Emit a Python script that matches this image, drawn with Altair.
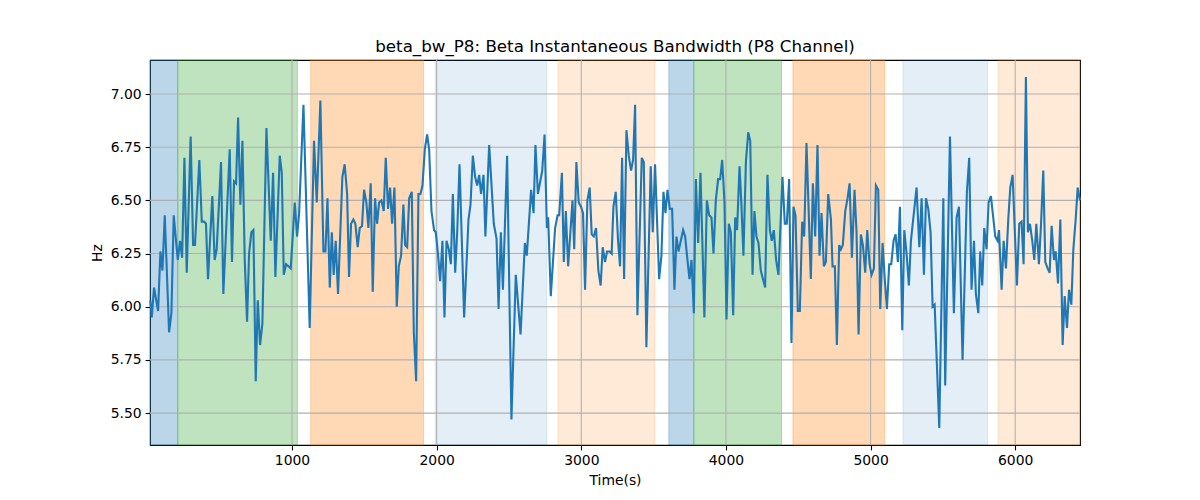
import altair as alt
import pandas as pd

# ---- series (Time in s, beta instantaneous bandwidth in Hz) ----
time_s = [
    20, 30, 46, 74, 90, 104, 120, 150, 166, 182, 210, 226, 240, 256, 272, 299, 316, 329, 359, 376,
    392, 405, 419, 449, 465, 479, 509, 525, 569, 585, 599,
    613, 627, 643, 657, 673, 689, 703, 719, 733, 749, 763, 779, 795, 823, 853, 869, 885, 915, 929, 943,
    959, 975, 991, 1019, 1035, 1049, 1079, 1122, 1152, 1171,
    1196, 1217, 1231, 1245, 1261, 1275, 1288, 1302, 1318, 1348, 1364, 1381, 1394, 1408, 1424, 1438,
    1454, 1468, 1484, 1498, 1514, 1528, 1544, 1558, 1574, 1588, 1602, 1618, 1634, 1648, 1664, 1678,
    1692, 1708, 1724, 1738, 1754, 1770,
    1782, 1796, 1810, 1828, 1842, 1858, 1874, 1888, 1902, 1918, 1934, 1948, 1964, 1982, 1994, 2010,
    2024, 2040, 2054, 2068, 2084, 2098, 2112, 2128, 2142, 2158, 2190, 2220, 2234, 2250, 2266, 2280,
    2294, 2307, 2324, 2337, 2363,
    2395, 2414, 2428, 2444, 2458, 2487, 2517, 2547, 2580, 2610, 2623, 2653, 2670, 2683, 2700, 2730,
    2746, 2762, 2771, 2789, 2819, 2836, 2847, 2866, 2879, 2893, 2909, 2939, 2951,
    2966, 2982, 2998, 3012, 3026, 3042, 3058, 3072, 3086, 3102, 3118, 3134, 3148, 3164, 3178, 3197,
    3210, 3222, 3238, 3254, 3268, 3282, 3296, 3312, 3328, 3344, 3358, 3372, 3388, 3418, 3432, 3450,
    3480, 3494, 3510, 3538,
    3554, 3568, 3582, 3596, 3612, 3628, 3644, 3658, 3672, 3688, 3704, 3718, 3734, 3748, 3762, 3778,
    3792, 3808, 3824, 3851, 3868, 3884, 3900, 3914, 3930, 3946, 3960, 3974, 3990, 4004, 4020, 4034,
    4050, 4064, 4077, 4094, 4107, 4121,
    4138, 4154, 4168, 4184, 4197, 4211, 4225, 4241, 4271, 4287, 4304, 4317, 4331, 4347, 4363, 4391,
    4407, 4421, 4437, 4453, 4467, 4481, 4497, 4511, 4527, 4541, 4557, 4587, 4601, 4617, 4633, 4647,
    4661, 4677, 4691, 4707,
    4726, 4737, 4753, 4767, 4783, 4795, 4808, 4825, 4841, 4855, 4871, 4889, 4903, 4917, 4933, 4947,
    4963, 4977, 4993, 5007, 5023, 5037, 5053, 5067, 5083, 5097, 5113, 5129, 5143, 5159, 5173, 5189,
    5203, 5219, 5233, 5249, 5265, 5279,
    5318, 5337, 5353, 5369, 5383, 5399, 5415, 5429, 5443, 5475, 5503, 5516, 5549, 5576, 5595, 5611,
    5636, 5666, 5682, 5698, 5715, 5728, 5745, 5758, 5772, 5786, 5802, 5816, 5832, 5848, 5862, 5878,
    5888, 5906, 5920, 5936, 5952, 5966, 5982, 6012, 6028, 6044, 6058, 6074, 6088, 6102, 6118, 6132,
    6146, 6164, 6178, 6194, 6208, 6224, 6238, 6252, 6268, 6280, 6296, 6312, 6328, 6342, 6358, 6372,
    6388, 6402, 6418, 6432, 6448,
]

beta_bw_hz = [
    6.03, 5.95, 6.09, 5.98, 6.26, 6.17, 6.43, 5.88, 5.97, 6.43, 6.22, 6.31, 6.23, 6.70, 6.16, 6.80, 6.29, 6.29, 6.69, 6.40,
    6.40, 6.39, 6.13, 6.52, 6.22, 6.27, 6.68, 6.06, 6.74, 6.21, 6.59,
    6.58, 6.89, 6.48, 6.78, 6.22, 5.93, 6.25, 6.35, 6.36, 5.65, 6.03, 5.82, 5.92, 6.84, 6.31, 6.63, 6.14, 6.71, 6.63, 6.15,
    6.20, 6.19, 6.18, 6.49, 6.33, 6.44, 6.95, 5.90, 6.78, 6.49,
    6.97, 6.26, 6.26, 6.51, 6.09, 6.35, 6.15, 6.31, 6.06, 6.61, 6.67, 6.53, 6.14, 6.39, 6.41, 6.39,
    6.28, 6.37, 6.38, 6.55, 6.49, 6.37, 6.58, 6.07, 6.51, 6.39, 6.49, 6.50, 6.45, 6.70, 6.46, 6.56,
    6.39, 6.56, 6.00, 6.19, 6.24, 6.48,
    6.29, 6.28, 6.51, 6.54, 5.88, 5.65, 6.53, 6.53, 6.57, 6.74, 6.81, 6.74, 6.45, 6.36, 6.35, 6.24,
    6.12, 6.31, 5.95, 6.31, 6.27, 6.20, 6.53, 6.16, 6.35, 6.67, 5.95, 6.41, 6.48, 6.71, 6.61, 6.57,
    6.62, 6.53, 6.62, 6.33, 6.76,
    6.39, 6.32, 5.99, 6.35, 6.08, 6.71, 5.47, 6.15, 5.87, 6.30, 6.24, 6.55, 6.44, 6.76, 6.53, 6.64,
    6.81, 6.37, 6.42, 6.05, 6.37, 6.43, 6.43, 6.63, 6.21, 6.45, 6.19, 6.50, 6.27,
    6.68, 6.49, 6.47, 6.44, 6.08, 6.50, 6.56, 6.34, 6.33, 6.37, 6.17, 6.10, 6.28, 6.21, 6.26, 6.26,
    6.25, 6.47, 6.54, 6.31, 6.19, 6.70, 6.13, 6.83, 6.71, 6.64, 6.69, 6.95, 5.96, 6.70, 6.68, 5.81,
    6.66, 6.35, 6.67, 6.13,
    6.24, 6.54, 6.44, 6.55, 6.46, 6.46, 6.08, 6.33, 6.26, 6.31, 6.36, 6.33, 6.22, 6.13, 6.22, 5.97,
    6.60, 6.30, 6.63, 5.95, 6.50, 6.43, 6.42, 6.25, 6.50, 6.60, 6.60, 6.69, 6.49, 5.94, 6.39, 6.35,
    5.96, 6.42, 6.36, 6.66, 6.48, 6.24,
    6.68, 6.82, 6.78, 6.15, 6.45, 6.33, 6.30, 6.17, 6.09, 6.62, 6.36, 6.31, 6.36, 6.22, 6.15, 6.61,
    6.39, 6.39, 6.60, 5.83, 6.47, 6.43, 5.98, 5.98, 6.40, 6.33, 6.77, 6.13, 6.58, 6.33, 6.76, 6.24,
    6.44, 6.19, 6.21, 6.53,
    6.41, 6.19, 6.19, 5.82, 6.29, 6.27, 6.29, 6.45, 6.51, 6.58, 6.23, 6.55, 6.35, 5.87, 6.34, 6.29,
    6.16, 6.36, 6.20, 6.15, 6.18, 6.57, 6.55, 5.99, 6.30, 6.14, 5.99, 6.20, 6.20, 6.31, 6.34, 6.21,
    6.47, 5.89, 6.36, 6.25, 6.10, 6.31,
    6.56, 6.28, 6.51, 6.15, 6.51, 6.46, 6.35, 6.00, 6.01, 5.43, 6.51, 5.63, 6.80, 5.97, 6.42, 6.47,
    5.75, 6.54, 6.70, 6.08, 6.31, 6.06, 5.97, 6.26, 6.10, 6.37, 6.27, 6.49, 6.52, 6.42, 6.33, 6.31,
    6.36, 6.08, 6.31, 6.18, 6.41, 6.56, 6.62, 6.10, 6.39, 6.40, 6.20, 7.08, 6.35, 6.39, 6.31, 6.22,
    6.39, 6.20, 6.38, 6.64, 6.21, 6.18, 6.16, 6.38, 6.22, 6.26, 6.11, 6.41, 5.82, 6.05, 5.90, 6.08,
    6.01, 6.27, 6.41, 6.56, 6.50,
]

# ---- shaded segments ----
span_start = [18, 210, 1129, 1989, 2838, 3605, 3778, 4463, 5224, 5881]
span_end = [210, 1037, 1909, 2762, 3509, 3778, 4385, 5097, 5809, 6448]
span_color = ["#1f77b4", "#2ca02c", "#ff7f0e", "#1f77b4", "#ff7f0e",
              "#1f77b4", "#2ca02c", "#ff7f0e", "#1f77b4", "#ff7f0e"]
span_alpha = [0.3, 0.3, 0.3, 0.12, 0.16, 0.3, 0.3, 0.3, 0.12, 0.16]

# ---- axes ----
x_ticks = [1000, 2000, 3000, 4000, 5000, 6000]
y_ticks = [5.50, 5.75, 6.00, 6.25, 6.50, 6.75, 7.00]
x_domain = [18, 6448]
y_domain = [5.35, 7.16]

assert len(time_s) == len(beta_bw_hz)

FONT = "DejaVu Sans"
W, H = 930, 385

series = pd.DataFrame({"t": time_s, "hz": beta_bw_hz})
spans = pd.DataFrame({"start": span_start, "end": span_end,
                      "color": span_color, "alpha": span_alpha})
xgrid = pd.DataFrame({"x": x_ticks})
ygrid = pd.DataFrame({"y": y_ticks})

xscale = alt.Scale(domain=x_domain, nice=False, zero=False)
yscale = alt.Scale(domain=y_domain, nice=False, zero=False)

span_layer = alt.Chart(spans).mark_rect(strokeWidth=1).encode(
    x=alt.X("start:Q", scale=xscale,
            axis=alt.Axis(values=x_ticks, format="d", title="Time(s)", grid=False)),
    x2="end:Q",
    fill=alt.Color("color:N", scale=None),
    stroke=alt.Color("color:N", scale=None),
    fillOpacity=alt.FillOpacity("alpha:Q", scale=None),
    strokeOpacity=alt.StrokeOpacity("alpha:Q", scale=None),
)

xgrid_layer = alt.Chart(xgrid).mark_rule(color="#b0b0b0", strokeWidth=1.1).encode(
    x=alt.X("x:Q", scale=xscale)
)
ygrid_layer = alt.Chart(ygrid).mark_rule(color="#b0b0b0", strokeWidth=1.1).encode(
    y=alt.Y("y:Q", scale=yscale)
)

line_layer = alt.Chart(series).mark_line(color="#1f77b4", strokeWidth=2.1).encode(
    x=alt.X("t:Q", scale=xscale),
    y=alt.Y("hz:Q", scale=yscale,
            axis=alt.Axis(values=y_ticks, format=".2f", title="Hz", grid=False)),
    order="t:Q",
)

chart = alt.layer(span_layer, xgrid_layer, ygrid_layer, line_layer).properties(
    width=W,
    height=H,
    autosize=alt.AutoSizeParams(type="none"),
    padding={"left": 142, "top": 52, "right": 104, "bottom": 47},
    title=alt.TitleParams(
        text="beta_bw_P8: Beta Instantaneous Bandwidth (P8 Channel)",
        font=FONT, fontSize=16.7, fontWeight="normal", color="black",
        anchor="middle", baseline="alphabetic", offset=9, dy=18,
    ),
).configure_view(
    stroke="black", strokeWidth=1.1
).configure_axis(
    domain=False,
    ticks=True, tickColor="black", tickWidth=1.1, tickSize=4.9,
    labelFont=FONT, labelFontSize=13.9, labelColor="black", labelPadding=4,
    titleFont=FONT, titleFontSize=13.9, titleColor="black", titleFontWeight="normal",
).configure_axisX(
    titlePadding=6, labelFlush=False
).configure_axisY(
    titlePadding=6
)

chart.save("out.html", embed_options={"renderer": "svg", "actions": False})
